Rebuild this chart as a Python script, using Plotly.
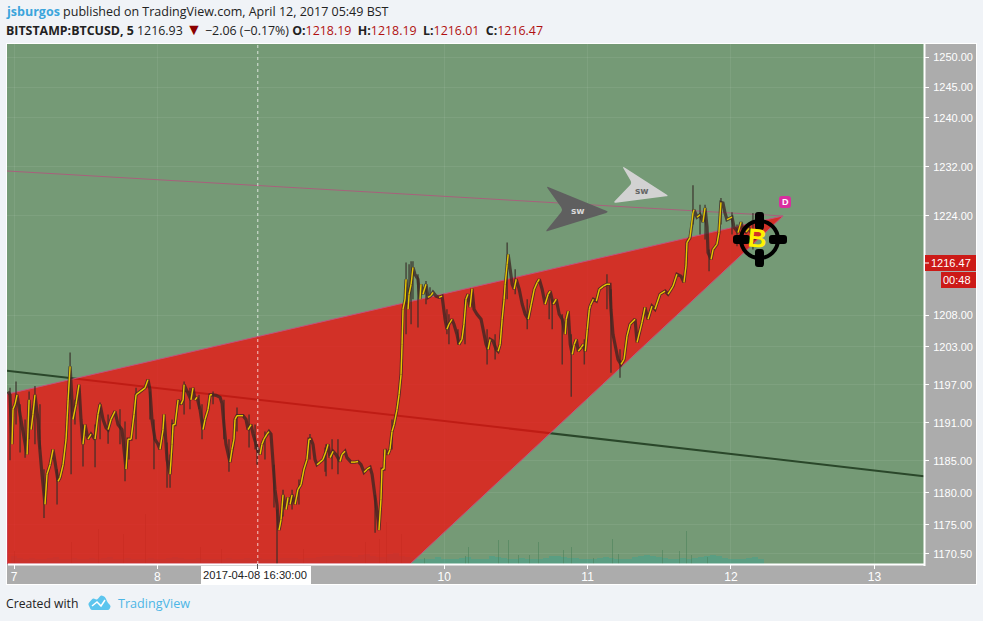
import numpy as np
import plotly.graph_objects as go

# ---------- data ----------
close_day = [6.958,6.972,6.986,6.993,7.007,7.021,7.042,7.063,7.084,7.091,7.105,7.119,7.132,7.146,7.167,7.174,7.195,7.209,7.216,7.230,7.251,7.272,7.293,7.307,7.321,7.342,7.363,7.377,7.391,7.404,7.411,7.432,7.453,7.467,7.481,7.495,7.516,7.537,7.565,7.586,7.600,7.621,7.642,7.656,7.676,7.704,7.725,7.753,7.760,7.781,7.795,7.816,7.837,7.851,7.879,7.914,7.934,7.948,7.962,7.983,8.004,8.018,8.039,8.046,8.067,8.088,8.102,8.109,8.123,8.144,8.165,8.179,8.186,8.200,8.220,8.234,8.248,8.262,8.276,8.297,8.318,8.332,8.353,8.367,8.381,8.409,8.437,8.451,8.464,8.478,8.506,8.520,8.534,8.541,8.555,8.576,8.597,8.618,8.632,8.653,8.667,8.688,8.702,8.716,8.729,8.743,8.764,8.778,8.792,8.806,8.820,8.834,8.848,8.862,8.876,8.897,8.911,8.925,8.939,8.960,8.980,9.001,9.022,9.043,9.057,9.071,9.085,9.099,9.113,9.134,9.155,9.176,9.190,9.204,9.225,9.245,9.273,9.287,9.308,9.322,9.350,9.378,9.399,9.420,9.441,9.462,9.483,9.497,9.511,9.525,9.539,9.545,9.559,9.566,9.580,9.587,9.608,9.622,9.636,9.650,9.671,9.685,9.699,9.706,9.713,9.727,9.734,9.748,9.755,9.769,9.782,9.796,9.817,9.831,9.838,9.852,9.873,9.887,9.908,9.922,9.943,9.964,9.985,10.006,10.019,10.033,10.054,10.068,10.089,10.103,10.124,10.138,10.152,10.166,10.180,10.194,10.208,10.229,10.257,10.271,10.292,10.306,10.320,10.341,10.362,10.376,10.390,10.404,10.418,10.425,10.439,10.446,10.460,10.474,10.488,10.502,10.523,10.544,10.565,10.586,10.607,10.628,10.649,10.663,10.683,10.704,10.725,10.739,10.760,10.781,10.802,10.823,10.844,10.851,10.865,10.879,10.893,10.907,10.921,10.935,10.956,10.970,10.984,10.998,11.012,11.019,11.040,11.061,11.082,11.110,11.135,11.156,11.163,11.177,11.191,11.212,11.233,11.254,11.275,11.296,11.331,11.345,11.379,11.400,11.421,11.449,11.470,11.505,11.540,11.561,11.596,11.623,11.651,11.672,11.686,11.693,11.714,11.735,11.742,11.763,11.784,11.805,11.819,11.833,11.840,11.861,11.875,11.902,11.916,11.930,11.944,11.958,11.972,12.007,12.021,12.049,12.070,12.084,12.105,12.126,12.147,12.167]
close_price = [1195.9,1195.4,1187.6,1193.1,1193.9,1195.4,1192.3,1189.2,1186.8,1186.0,1194.6,1189.9,1192.3,1195.4,1191.5,1188.4,1182.9,1179.0,1178.2,1182.9,1184.4,1186.8,1183.7,1181.8,1182.4,1184.4,1188.4,1194.6,1199.9,1194.6,1191.5,1193.9,1197.0,1191.5,1187.6,1190.7,1188.4,1189.2,1188.4,1192.3,1193.9,1191.5,1190.2,1189.9,1191.5,1192.8,1190.7,1189.9,1188.4,1183.7,1188.4,1188.4,1192.3,1195.4,1195.9,1196.5,1197.8,1196.2,1191.5,1188.4,1187.6,1186.8,1189.9,1192.3,1185.2,1182.9,1187.6,1190.7,1190.7,1194.6,1193.9,1194.6,1197.0,1196.2,1195.4,1194.6,1196.5,1194.6,1195.0,1193.1,1189.9,1191.5,1193.1,1195.4,1195.4,1195.3,1195.0,1194.0,1190.7,1187.6,1184.8,1186.8,1188.4,1191.5,1192.1,1192.1,1192.1,1191.5,1189.9,1190.7,1189.2,1187.6,1186.5,1186.0,1187.6,1188.4,1189.2,1189.6,1189.2,1184.4,1180.5,1178.2,1174.2,1175.8,1179.7,1177.4,1179.3,1178.2,1179.7,1178.2,1180.5,1181.3,1183.7,1185.2,1188.4,1188.4,1187.6,1185.2,1184.4,1184.8,1185.2,1186.5,1187.6,1185.5,1186.5,1186.0,1184.9,1186.0,1186.5,1185.5,1184.8,1184.8,1184.9,1184.4,1183.2,1183.7,1184.0,1182.9,1180.5,1179.0,1175.8,1174.2,1179.0,1183.7,1183.7,1186.8,1186.0,1186.8,1189.6,1190.7,1193.1,1195.4,1198.6,1203.4,1209.0,1210.6,1213.8,1209.0,1211.4,1213.0,1215.7,1214.6,1213.8,1210.6,1213.0,1211.4,1213.0,1210.9,1211.2,1211.7,1211.1,1210.9,1211.1,1207.4,1205.8,1206.6,1207.4,1206.6,1205.0,1203.4,1204.2,1206.6,1210.6,1211.4,1209.3,1212.3,1209.0,1208.2,1207.4,1205.8,1203.4,1202.6,1204.2,1203.9,1202.6,1202.3,1203.4,1207.4,1210.6,1213.0,1216.2,1217.8,1215.4,1213.0,1212.2,1213.8,1212.2,1209.8,1208.2,1207.4,1209.8,1212.2,1213.3,1213.8,1212.2,1209.8,1211.4,1211.9,1209.8,1210.6,1208.2,1207.4,1205.0,1207.4,1208.7,1203.4,1201.8,1203.4,1204.2,1202.3,1202.9,1203.4,1202.3,1205.8,1209.0,1209.6,1210.6,1210.3,1212.2,1212.7,1213.0,1213.0,1209.0,1205.0,1203.4,1201.0,1200.2,1201.0,1204.7,1206.6,1207.4,1203.7,1206.9,1209.3,1207.4,1209.5,1209.0,1211.4,1211.9,1211.4,1212.7,1214.6,1214.3,1213.3,1215.9,1219.7,1220.5,1224.5,1225.0,1223.8,1224.2,1223.0,1225.3,1222.2,1218.1,1217.0,1218.6,1219.4,1221.3,1226.2,1226.1,1224.5,1223.4,1223.8,1222.2,1221.3,1223.0,1221.8,1221.4,1222.0,1220.9,1220.1]

wick_day = [6.972,7.014,7.042,7.077,7.105,7.146,7.181,7.209,7.300,7.391,7.398,7.425,7.481,7.565,7.600,7.656,7.739,7.774,7.802,7.851,7.948,7.976,8.067,8.088,8.102,8.186,8.227,8.290,8.311,8.388,8.464,8.499,8.555,8.639,8.681,8.695,8.750,8.813,8.834,8.876,8.939,8.987,9.064,9.169,9.176,9.218,9.259,9.518,9.636,9.734,9.755,9.769,9.782,9.817,9.873,9.901,10.019,10.033,10.096,10.145,10.299,10.355,10.439,10.495,10.579,10.732,10.753,10.823,10.886,10.977,11.135,11.163,11.226,11.735,11.784,11.819,11.847,11.930,12.007,12.042,12.153]
wick_high = [1196.5,1197.5,1193.9,1191.5,1195.9,1196.8,1193.9,1183.7,1183.7,1202.1,1194.6,1194.6,1190.7,1190.7,1194.2,1192.3,1193.1,1191.2,1188.4,1196.5,1195.9,1191.5,1187.9,1186.0,1191.5,1197.5,1196.5,1195.4,1193.9,1195.9,1194.6,1188.4,1193.4,1192.3,1190.7,1187.6,1189.6,1184.4,1177.4,1180.5,1180.5,1182.1,1189.2,1187.1,1187.6,1188.4,1188.4,1179.7,1191.5,1216.5,1216.2,1216.7,1216.7,1214.6,1213.5,1212.5,1209.0,1208.2,1205.8,1210.6,1205.8,1205.0,1219.7,1215.4,1210.6,1211.4,1210.6,1208.2,1205.0,1204.2,1214.6,1212.2,1202.6,1229.0,1225.8,1225.8,1218.6,1226.9,1224.6,1222.6,1224.5]
wick_low = [1185.1,1190.7,1186.3,1185.5,1188.4,1187.6,1186.8,1176.1,1178.2,1194.6,1182.9,1190.7,1184.1,1184.0,1188.4,1187.7,1187.6,1181.8,1185.2,1188.4,1191.5,1183.7,1180.8,1180.8,1186.0,1192.3,1193.1,1193.1,1188.4,1193.9,1188.4,1183.3,1189.6,1187.1,1186.8,1184.4,1185.2,1177.7,1169.0,1176.3,1177.4,1178.2,1185.2,1183.3,1182.6,1183.7,1182.9,1173.8,1186.8,1205.0,1210.6,1206.6,1210.6,1206.1,1209.8,1210.9,1205.0,1203.4,1203.4,1203.4,1200.2,1201.0,1210.6,1211.4,1205.8,1207.4,1205.8,1200.2,1195.1,1200.2,1209.0,1198.9,1198.1,1222.6,1221.0,1220.2,1215.1,1222.6,1221.0,1219.1,1218.6]

# hourly volume haze, starting 7 April 00:00 and running to 12 April 05:00
haze_volume = [8,6,5,6,5,5,6,7,5,5,6,5,5,6,5,6,7,5,5,6,5,5,5,6,5,5,6,7,6,5,5,6,5,5,5,5,6,5,5,6,5,6,5,5,5,6,6,6,5,6,6,7,8,8,9,8,8,7,9,10,8,7,7,10,11,8,7,6,5,5,5,7,5,5,5,6,7,5,5,5,8,7,6,5,5,6,5,5,5,6,8,8,7,6,6,5,5,5,6,7,6,5,5,5,7,8,9,8,7,6,5,5,6,5,6,7,8,9,8,6,5,5,5,6,7,5]
spike_day = [7.00,7.40,7.59,7.76,7.92,8.30,8.45,8.70,9.02,9.45,9.55,9.60,9.70,9.866,10.145,10.166,10.377,10.445,10.515,10.598,10.661,10.829,10.891,11.038,11.177,11.212,11.519,11.644,11.693,11.728,11.833]
spike_volume = [13,22,35,30,50,17,15,12,15,22,25,42,30,6,8,17,24,24,9,9,22,14,17,6,25,10,14,13,33,9,7]

tick_prices = [1170.5,1175,1180,1185,1191,1197,1203,1208,1224,1232,1240,1245,1250]
tick_days = [7,8,10,11,12,13]
trend_day = [6.951,13.346]
trend_price = [1199.2,1182.6]
resist_day = [6.951,12.363]
resist_price = [1231.3,1224.0]
wedge_day = [6.951,12.363,9.762,6.951,6.951]
wedge_price = [1195.5,1224.0,1168.95,1168.95,1195.5]
crosshair_day = 8.70
price_range = [1168.95,1252.15]
day_range = [6.951,13.346]

# ---------- layout helpers (pixels of the 983x621 page) ----------
L, R, T, B = 7, 924, 44, 564
PX = lambda x: (x - L) / (R - L)
PY = lambda y: (B - y) / (B - T)

def pane(x0, y0, x1, y1, color, layer="above", width=0, lc=None):
    return dict(type="rect", xref="paper", yref="paper", x0=PX(x0), x1=PX(x1), y0=PY(y0), y1=PY(y1),
                fillcolor=color, line=dict(width=width, color=lc or color), layer=layer)

def rounded(points, color, r=3.0, layer="above"):
    """Closed polygon whose corners are rounded by r pixels."""
    n = len(points)
    parts = []
    for i in range(n):
        px, py = points[i]
        ax, ay = points[i - 1]
        bx, by = points[(i + 1) % n]
        da = max(np.hypot(ax - px, ay - py), 1e-6)
        db = max(np.hypot(bx - px, by - py), 1e-6)
        ra, rb = min(r, da / 2), min(r, db / 2)
        sx, sy = px + (ax - px) * ra / da, py + (ay - py) * ra / da
        ex, ey = px + (bx - px) * rb / db, py + (by - py) * rb / db
        parts.append(("M" if i == 0 else "L") + f"{PX(sx):.5f},{PY(sy):.5f}")
        parts.append(f"Q{PX(px):.5f},{PY(py):.5f} {PX(ex):.5f},{PY(ey):.5f}")
    return dict(type="path", xref="paper", yref="paper", path=" ".join(parts) + " Z",
                fillcolor=color, line=dict(width=0), layer=layer)

def seg(x0, y0, x1, y1, color, w, layer="above"):
    return dict(type="line", xref="paper", yref="paper", x0=PX(x0), x1=PX(x1), y0=PY(y0), y1=PY(y1),
                line=dict(color=color, width=w), layer=layer)

def label(x, y, text, size=12, color="#222", family="Liberation Sans", anchor="left", **kw):
    return dict(xref="paper", yref="paper", x=PX(x), y=PY(y), text=text, showarrow=False, xanchor=anchor,
                yanchor="middle", font=dict(size=size, color=color, family=family), borderpad=0, **kw)

# ---------- traces ----------
fig = go.Figure()
haze_day = [7 + i / 24 for i in range(len(haze_volume))]
fig.add_bar(x=haze_day, y=haze_volume, width=1 / 24, marker=dict(color="rgba(50,165,150,.4)", line_width=0), yaxis="y")
fig.add_bar(x=spike_day, y=spike_volume, width=0.007, marker=dict(color="rgba(70,125,85,.5)", line_width=0), yaxis="y")

price_axis = "y2"
fig.add_scatter(x=trend_day, y=trend_price, mode="lines", yaxis=price_axis, line=dict(color="#2a472a", width=2))
fig.add_scatter(x=wedge_day, y=wedge_price, mode="lines", yaxis=price_axis, fill="toself",
                fillcolor="rgba(242,14,13,.75)", line=dict(color="#c4507c", width=1))
fig.add_scatter(x=resist_day, y=resist_price, mode="lines", yaxis=price_axis, line=dict(color="#a8607c", width=1))

wx, wy = [], []
for d, h, l in zip(wick_day, wick_high, wick_low):
    wx += [d, d, None]
    wy += [h, l, None]
fig.add_scatter(x=wx, y=wy, mode="lines", yaxis=price_axis, line=dict(color="rgba(55,45,40,.75)", width=1.5))
fig.add_scatter(x=close_day, y=close_price, mode="lines", yaxis=price_axis,
                line=dict(color="rgba(60,38,35,.78)", width=3.2))

# rising bars are yellow, falling bars stay dark
yx, yy = [], []
for i in range(len(close_day) - 1):
    if close_price[i + 1] >= close_price[i]:
        yx += [close_day[i], close_day[i + 1], None]
        yy += [close_price[i], close_price[i + 1], None]
fig.add_scatter(x=yx, y=yy, mode="lines", yaxis=price_axis, line=dict(color="#e6c800", width=1.4))

# ---------- decoration ----------
cx, cy = 759.5, 239.5
arm = 4.5
page = "#f0f3f7"
shapes = [
    # the paper is the grey axis colour; the page colour is laid around the panes
    pane(0, 0, 983, 43, page),
    pane(0, 585, 983, 621, page),
    pane(0, 0, 6, 621, page),
    pane(977, 0, 983, 621, page),
    seg(8, 564.5, 925, 564.5, "#ffffff", 2),
    seg(924.5, 44, 924.5, 566, "#ffffff", 2),
    seg(976.5, 43, 976.5, 585, "#ffffff", 1),
    seg(6, 584.5, 977, 584.5, "#ffffff", 1),
    seg(6, 43.5, 977, 43.5, "#ffffff", 1),
    seg(6.5, 44, 6.5, 585, "#ffffff", 1),
    # crosshair
    dict(type="line", xref="x", yref="paper", x0=crosshair_day, x1=crosshair_day, y0=0, y1=1,
         line=dict(color="rgba(255,255,255,.75)", width=1, dash="3px,3px"), layer="above"),
    pane(201, 566, 311, 584, "#ffffff"),
    seg(257.5, 564, 257.5, 569, "#555", 1),
    # last price tags
    pane(925, 255, 976, 271, "#cc1a17"),
    pane(941, 272, 976, 288, "#cc1a17"),
    seg(925, 263, 929, 263, "#ffffff", 1),
    # arrows
    rounded([(546, 186), (609, 212), (545, 232), (563, 210)], "#5f5f5f"),
    rounded([(622, 166), (669, 196), (613, 203), (632, 183)], "#d2d2d2"),
    # D mark
    rounded([(779, 196), (791, 196), (791, 208), (779, 208)], "#d92f9f"),
    # bitcoin target
    dict(type="circle", xref="paper", yref="paper", x0=PX(cx - 18.5), x1=PX(cx + 18.5), y0=PY(cy + 18.5), y1=PY(cy - 18.5),
         line=dict(color="#000", width=4), fillcolor="rgba(0,0,0,0)", layer="above"),
    rounded([(cx - arm, 212), (cx + arm, 212), (cx + arm, 230), (cx - arm, 230)], "#000"),
    rounded([(cx - arm, 249), (cx + arm, 249), (cx + arm, 267), (cx - arm, 267)], "#000"),
    rounded([(733, cy - arm), (750, cy - arm), (750, cy + arm), (733, cy + arm)], "#000"),
    rounded([(769, cy - arm), (787, cy - arm), (787, cy + arm), (769, cy + arm)], "#000"),
    # TradingView logo
    rounded([(88, 604), (93, 598), (97, 600), (101, 595), (105, 597), (108, 603), (111, 606), (109, 610), (91, 610)], "#5cc5ee", r=1.5),
    dict(type="path", xref="paper", yref="paper",
         path=f"M{PX(92):.5f},{PY(606):.5f} L{PX(97):.5f},{PY(602):.5f} L{PX(101):.5f},{PY(606):.5f} L{PX(105):.5f},{PY(600):.5f}",
         line=dict(color="#ffffff", width=1.5), layer="above"),
]

annotations = [
    label(5, 11, '<span style="color:#3ba5dc"><b>jsburgos</b></span> published on TradingView.com, April 12, 2017 05:49 BST',
          size=12.5, family="Open Sans", color="#222"),
    label(5, 29, '<b>BITSTAMP:BTCUSD, 5</b> 1216.93 <span style="color:#8b0000;font-size:16px">▼</span> −2.06 (−0.17%) '
          '<b>O:</b><span style="color:#b01010">1218.19</span>&nbsp; <b>H:</b><span style="color:#b01010">1218.19</span>&nbsp; '
          '<b>L:</b><span style="color:#b01010">1216.01</span>&nbsp; <b>C:</b><span style="color:#b01010">1216.47</span>',
          size=12.4, family="Open Sans", color="#222"),
    label(5, 603, "Created with", size=12.2, family="Open Sans", color="#222"),
    label(117, 603, "TradingView", size=12.6, family="Open Sans", color="#4db6e6"),
    label(255, 575, "2017-04-08 16:30:00", size=11.2, color="#222", anchor="center"),
    label(972, 263, "1216.47", size=11, color="#ffffff", anchor="right"),
    label(972, 280, "00:48", size=11, color="#ffffff", anchor="right"),
    label(578, 211, "<b>sw</b>", size=9, color="#d8d8d8", anchor="center", family="DejaVu Sans"),
    label(642, 191, "<b>sw</b>", size=9, color="#666", anchor="center", family="DejaVu Sans"),
    label(785, 202, "<b>D</b>", size=9, color="#fff", anchor="center"),
    label(757, 238, "<b>B</b>", size=26, color="#fff200", anchor="center", textangle=5),
]

fig.update_layout(
    width=983, height=621, autosize=False, showlegend=False, barmode="overlay",
    paper_bgcolor="#acacac", plot_bgcolor="#759a76",
    margin=dict(l=L, r=983 - R, t=T, b=621 - B, pad=0),
    bargap=0, shapes=shapes, annotations=annotations,
    xaxis=dict(range=day_range, tickvals=tick_days, ticktext=[str(d) for d in tick_days], ticks="outside", ticklen=4,
               ticklabelstandoff=-2,
               tickcolor="#ffffff", tickwidth=1, tickfont=dict(family="Liberation Sans", size=12, color="#ffffff"),
               showgrid=True, gridcolor="rgba(255,255,255,.07)", zeroline=False, showline=False),
    yaxis=dict(range=[0, 520], visible=False, fixedrange=True),
    yaxis2=dict(type="log", overlaying="y", side="right", anchor="x", range=list(np.log10(price_range)),
                tickvals=tick_prices, ticktext=[f"{p:.2f}" for p in tick_prices], ticks="outside", ticklen=4,
                ticklabelstandoff=2,
                tickcolor="#ffffff", tickwidth=1, tickfont=dict(family="Liberation Sans", size=11, color="#ffffff"),
                showgrid=True, gridcolor="rgba(255,255,255,.07)", zeroline=False, showline=False),
)
fig.write_html("out.html", config={"displayModeBar": False},
               post_script="document.body.style.margin='0';document.body.style.background='#f0f3f7';")
